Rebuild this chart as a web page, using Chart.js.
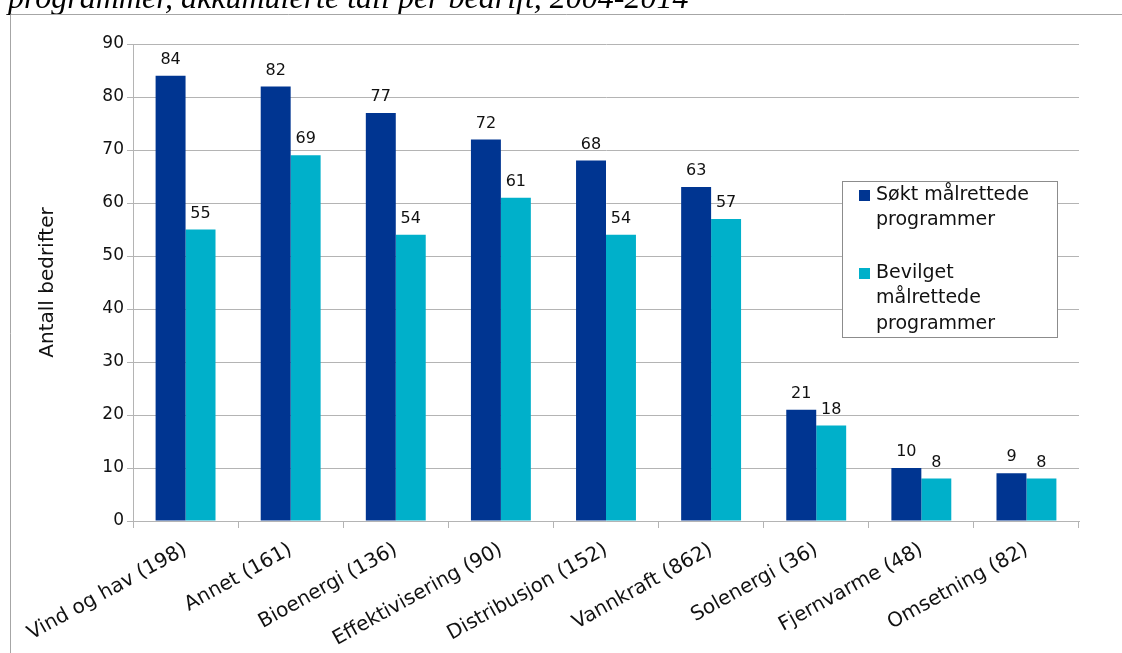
<!DOCTYPE html>
<html>
<head>
<meta charset="utf-8">
<script src="https://cdn.jsdelivr.net/npm/chart.js@4.4.1/dist/chart.umd.min.js"></script>
<style>
  html, body { margin: 0; padding: 0; background: #fff; }
  #wrap { width: 1122px; height: 653px; position: relative; }
</style>
</head>
<body>
<div id="wrap"><canvas id="chart"></canvas></div>
<script>
// data
const categories = ['Vind og hav (198)', 'Annet (161)', 'Bioenergi (136)', 'Effektivisering (90)',
  'Distribusjon (152)', 'Vannkraft (862)', 'Solenergi (36)', 'Fjernvarme (48)', 'Omsetning (82)'];
const sokt = [84, 82, 77, 72, 68, 63, 21, 10, 9];
const bevilget = [55, 69, 54, 61, 54, 57, 18, 8, 8];
const seriesNames = ['Søkt målrettede programmer', 'Bevilget målrettede programmer'];
const titleText = 'programmer, akkumulerte tall per bedrift, 2004-2014';
const yTitle = 'Antall bedrifter';

const FONT = '"DejaVu Sans", Verdana, sans-serif';
const GRID = '#b4b4b4';

// cut-off heading + frame
const framePlugin = {
  id: 'frame',
  beforeDraw(chart) {
    const ctx = chart.ctx;
    ctx.save();
    ctx.fillStyle = '#000';
    ctx.font = 'italic 32px "Liberation Serif", "Times New Roman", serif';
    ctx.textBaseline = 'alphabetic';
    ctx.textAlign = 'left';
    ctx.fillText(titleText, 8, 8);
    ctx.strokeStyle = '#a6a6a6';
    ctx.lineWidth = 1;
    ctx.beginPath();
    ctx.moveTo(10.5, 653);
    ctx.lineTo(10.5, 14.5);
    ctx.lineTo(1122, 14.5);
    ctx.stroke();
    ctx.restore();
  }
};

// value labels on top of bars
const valueLabels = {
  id: 'valueLabels',
  afterDatasetsDraw(chart) {
    const ctx = chart.ctx;
    ctx.save();
    ctx.font = '16px ' + FONT;
    ctx.fillStyle = '#111';
    ctx.textAlign = 'center';
    ctx.textBaseline = 'bottom';
    chart.data.datasets.forEach((ds, i) => {
      chart.getDatasetMeta(i).data.forEach((bar, j) => {
        ctx.fillText(ds.data[j], bar.x, bar.y - 8);
      });
    });
    ctx.restore();
  }
};

// boxed legend inside the plot
const boxLegend = {
  id: 'boxLegend',
  afterDraw(chart) {
    const ctx = chart.ctx;
    const x0 = 842, y0 = 181, w = 215, h = 156;
    ctx.save();
    ctx.fillStyle = '#fff';
    ctx.fillRect(x0, y0, w, h);
    ctx.strokeStyle = '#8c8c8c';
    ctx.lineWidth = 1;
    ctx.strokeRect(x0 + 0.5, y0 + 0.5, w, h);
    ctx.font = '19px ' + FONT;
    ctx.textBaseline = 'middle';
    ctx.textAlign = 'left';
    let y = 195;
    chart.data.datasets.forEach((ds) => {
      // wrap label
      const words = ds.label.split(' ');
      const lines = [];
      let cur = '';
      words.forEach(wd => {
        const test = cur ? cur + ' ' + wd : wd;
        if (cur && ctx.measureText(test).width > 172) { lines.push(cur); cur = wd; }
        else cur = test;
      });
      lines.push(cur);
      ctx.fillStyle = ds.backgroundColor;
      ctx.fillRect(859, y - 5, 11, 11);
      ctx.fillStyle = '#111';
      lines.forEach((ln, k) => ctx.fillText(ln, 876, y + k * 25.5));
      y += lines.length * 25.5 + 27;
    });
    ctx.restore();
  }
};

new Chart(document.getElementById('chart'), {
  type: 'bar',
  data: {
    labels: categories,
    datasets: [
      { label: seriesNames[0], data: sokt, backgroundColor: '#003591' },
      { label: seriesNames[1], data: bevilget, backgroundColor: '#00b0ca' }
    ]
  },
  options: {
    responsive: true,
    maintainAspectRatio: false,
    animation: false,
    devicePixelRatio: 1,
    layout: { padding: { left: 0, right: 43, top: 44, bottom: 0 } },
    datasets: { bar: { barPercentage: 1, categoryPercentage: 0.57 } },
    plugins: {
      legend: { display: false },
      tooltip: { enabled: false }
    },
    scales: {
      x: {
        grid: { display: true, drawOnChartArea: false, offset: true, color: GRID, tickLength: 7 },
        border: { color: GRID },
        ticks: {
          color: '#111', font: { family: FONT, size: 20 },
          minRotation: 29, maxRotation: 29, padding: 10, autoSkip: false
        },
        afterFit(s) { s.height = 132; }
      },
      y: {
        min: 0, max: 90,
        grid: { color: GRID, tickLength: 6 },
        border: { color: GRID },
        ticks: { stepSize: 10, color: '#111', font: { family: FONT, size: 17 }, padding: 3 },
        title: {
          display: true, text: yTitle, color: '#111',
          font: { family: FONT, size: 20 }, padding: { top: 36, bottom: 0 }
        },
        afterFit(s) { s.width = 133; }
      }
    }
  },
  plugins: [framePlugin, valueLabels, boxLegend]
});
</script>
</body>
</html>
